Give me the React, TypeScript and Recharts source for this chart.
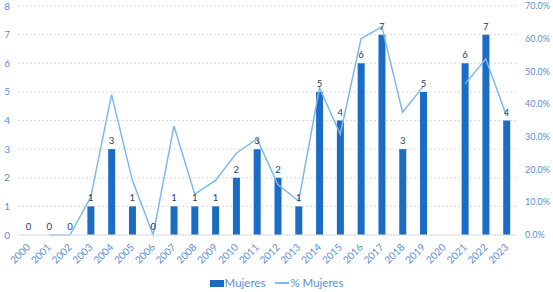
import React from 'react';
import { ComposedChart, Bar, Line, XAxis, YAxis, CartesianGrid, LabelList } from 'recharts';

const years = ['2000','2001','2002','2003','2004','2005','2006','2007','2008','2009','2010','2011','2012','2013','2014','2015','2016','2017','2018','2019','2020','2021','2022','2023'];
const mujeres: (number | null)[] = [0,0,0,1,3,1,0,1,1,1,2,3,2,1,5,4,6,7,3,5,null,6,7,4];
const pctMujeres: (number | null)[] = [null,0,0,11.6,42.9,16.7,0,33.3,12.5,16.7,25,29.4,15.4,10.4,45.0,30.8,60.0,63.6,37.5,45.5,null,46.2,53.8,36.4];
const leftTicks = [0,1,2,3,4,5,6,7,8];
const rightTicks = [0,10,20,30,40,50,60,70];

const data = years.map((y, i) => ({ year: y, mujeres: mujeres[i], pct: pctMujeres[i] }));

const BAR = '#1a6cc4';
const LINE = '#7cb9ea';
const TICK = '#5a8fd4';
const FONT = 'Lato, "Open Sans", sans-serif';

const XTick = (props: any) => {
  const { x, y, payload } = props;
  return (
    <text x={x} y={y} transform={`rotate(-45 ${x} ${y})`} textAnchor="end" dy={5.25} dx={-1.75} fontSize={10} fill={TICK} fontFamily={FONT}>
      {payload.value}
    </text>
  );
};

const PointLabel = (props: any) => {
  const { x, y, value } = props;
  if (value === null || value === undefined) return null;
  return (
    <text x={x} y={y - 5} textAnchor="middle" fontSize={9.5} fill="#24406e" fontFamily={FONT}>
      {value}
    </text>
  );
};

export default function App() {
  return (
    <div style={{ position: 'absolute', left: 0, top: 0, width: 553, height: 292, background: '#fff' }}>
      <ComposedChart width={553} height={292} data={data} margin={{ top: 6, right: 0, bottom: 24, left: 0 }}>
        <CartesianGrid vertical={false} stroke="#dcdcdc" strokeDasharray="2 2" yAxisId="left" />
        <XAxis dataKey="year" tick={<XTick />} interval={0} axisLine={{ stroke: '#e2e2e2' }} tickLine={false} height={33} />
        <YAxis yAxisId="left" domain={[0, 8]} ticks={leftTicks} width={18} axisLine={false} tickLine={false} tickSize={0} tickMargin={8}
          tick={{ fontSize: 10, fill: TICK, fontFamily: FONT }} />
        <YAxis yAxisId="right" orientation="right" domain={[0, 70]} ticks={rightTicks} width={36} axisLine={false} tickLine={false} tickSize={0} tickMargin={8}
          tick={{ fontSize: 9, fill: TICK, fontFamily: FONT, textAnchor: 'start' }} tickFormatter={(v: number) => `${v.toFixed(1)}%`} />
        <Bar yAxisId="left" dataKey="mujeres" fill={BAR} barSize={7} isAnimationActive={false} />
        <Line yAxisId="left" dataKey="mujeres" stroke="none" dot={false} activeDot={false} legendType="none" isAnimationActive={false}>
          <LabelList dataKey="mujeres" content={<PointLabel />} />
        </Line>
        <Line yAxisId="right" dataKey="pct" stroke={LINE} strokeWidth={1.5} dot={false} type="linear" connectNulls={false} isAnimationActive={false} />
      </ComposedChart>
      <div style={{ position: 'absolute', left: 0, top: 276, width: 553, display: 'flex', justifyContent: 'center', alignItems: 'center', fontFamily: FONT, fontSize: 11.5, color: TICK, lineHeight: '14px' }}>
        <span style={{ display: 'inline-block', width: 14, height: 7, background: BAR, marginRight: 1 }} />
        <span style={{ marginRight: 10 }}>Mujeres</span>
        <span style={{ display: 'inline-block', width: 14, height: 1.5, background: LINE, marginRight: 1 }} />
        <span>% Mujeres</span>
      </div>
    </div>
  );
}
